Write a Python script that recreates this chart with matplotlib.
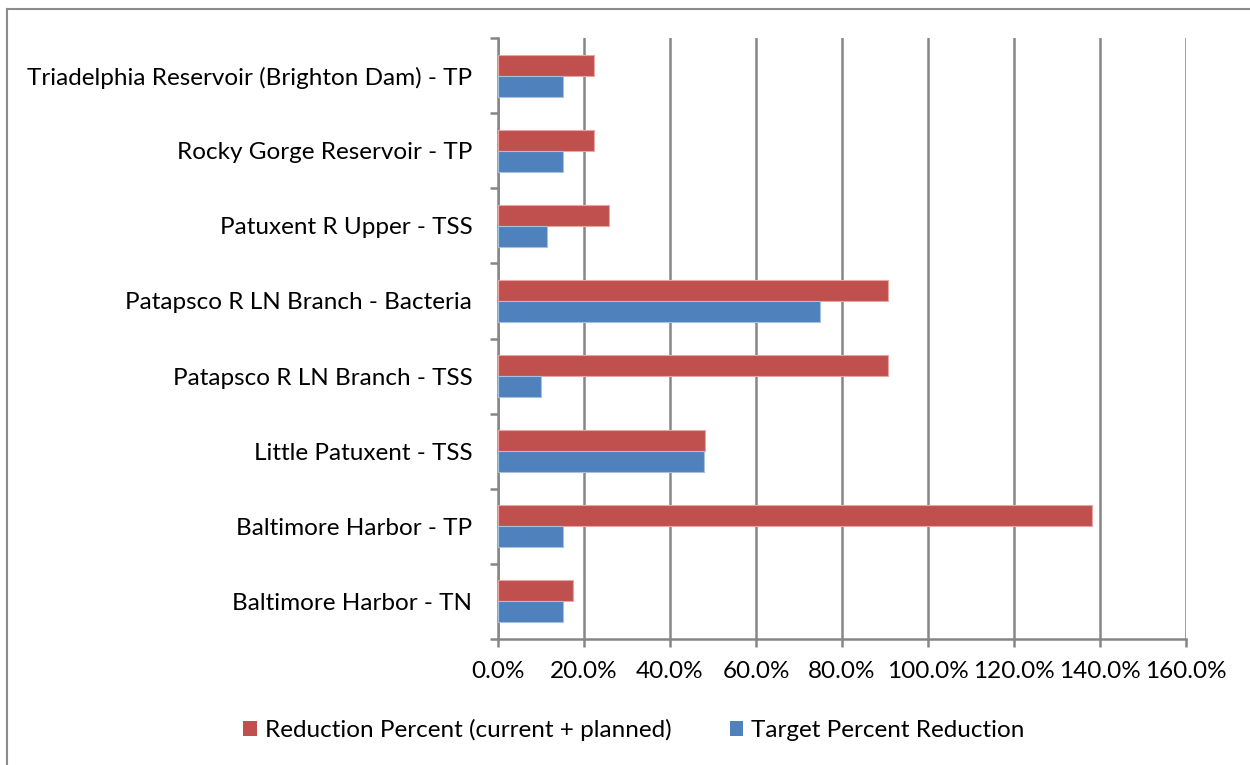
import matplotlib
matplotlib.use("Agg")
import matplotlib.pyplot as plt
from matplotlib.lines import Line2D
from matplotlib.patches import Patch
from matplotlib.ticker import FuncFormatter, FixedLocator

plt.rcParams['font.family'] = ['Lato', 'DejaVu Sans']

categories = [
    "Baltimore Harbor - TN",
    "Baltimore Harbor - TP",
    "Little Patuxent - TSS",
    "Patapsco R LN Branch - TSS",
    "Patapsco R LN Branch - Bacteria",
    "Patuxent R Upper - TSS",
    "Rocky Gorge Reservoir - TP",
    "Triadelphia Reservoir (Brighton Dam) - TP",
]
reduction_percent = [17.5, 138.1, 48.1, 90.8, 90.7, 25.9, 22.3, 22.3]
target_percent = [15.0, 15.0, 47.9, 10.0, 74.8, 11.4, 15.0, 15.0]
series_names = ["Reduction Percent (current + planned)", "Target Percent Reduction"]
x_ticks = [0, 20, 40, 60, 80, 100, 120, 140, 160]

red = "#C0504D"
blue = "#4F81BD"
grid_gray = "#868686"

W, H = 1250, 765
fig = plt.figure(figsize=(W / 100, H / 100), dpi=100)
ax = fig.add_axes([498 / W, 1 - 639 / H, (1186 - 498) / W, (639 - 38) / H])

bh = 0.28
ys = list(range(len(categories)))
ax.barh([y + bh / 2 for y in ys], reduction_percent, height=bh, color=red,
        edgecolor="#E6A6A4", linewidth=0.8, zorder=3)
ax.barh([y - bh / 2 for y in ys], target_percent, height=bh, color=blue,
        edgecolor="#A7C0DE", linewidth=0.8, zorder=3)

ax.set_xlim(0, 160)
ax.set_ylim(-0.5, len(categories) - 0.5)
ax.xaxis.set_major_locator(FixedLocator(x_ticks))
ax.xaxis.set_major_formatter(FuncFormatter(lambda v, p: f"{v:.1f}%"))
ax.grid(axis="x", color=grid_gray, linewidth=1.8, zorder=0)

ax.yaxis.set_major_locator(FixedLocator([i - 0.5 for i in range(len(categories) + 1)]))
ax.yaxis.set_major_formatter(FuncFormatter(lambda v, p: ""))
ax.yaxis.set_minor_locator(FixedLocator(ys))
ax.set_yticklabels(categories, minor=True)
ax.tick_params(axis="y", which="major", length=6, width=1.8, color=grid_gray, direction="out")
ax.tick_params(axis="y", which="minor", length=0, pad=18.5, labelsize=17.5)
ax.tick_params(axis="x", which="major", length=6, width=1.8, color=grid_gray,
               direction="out", labelsize=17.5, pad=10)

for s in ["top", "right"]:
    ax.spines[s].set_visible(False)
for s in ["left", "bottom"]:
    ax.spines[s].set_color(grid_gray)
    ax.spines[s].set_linewidth(1.8)

# figure border (left and top visible)
fig.add_artist(Line2D([7 / W, 7 / W], [0, 1 - 9 / H], transform=fig.transFigure,
                      color="#8C8C8C", linewidth=1.5))
fig.add_artist(Line2D([7 / W, 1], [1 - 9 / H, 1 - 9 / H], transform=fig.transFigure,
                      color="#8C8C8C", linewidth=1.5))

handles = [Patch(facecolor=red, edgecolor="none"), Patch(facecolor=blue, edgecolor="none")]
fig.legend(handles, series_names, loc="center", bbox_to_anchor=(634 / W, 1 - 730 / H),
           ncol=2, frameon=False, fontsize=17.5, handlelength=0.55, handleheight=0.55,
           handletextpad=0.33, columnspacing=2.4)

fig.savefig("out.png", dpi=100)
